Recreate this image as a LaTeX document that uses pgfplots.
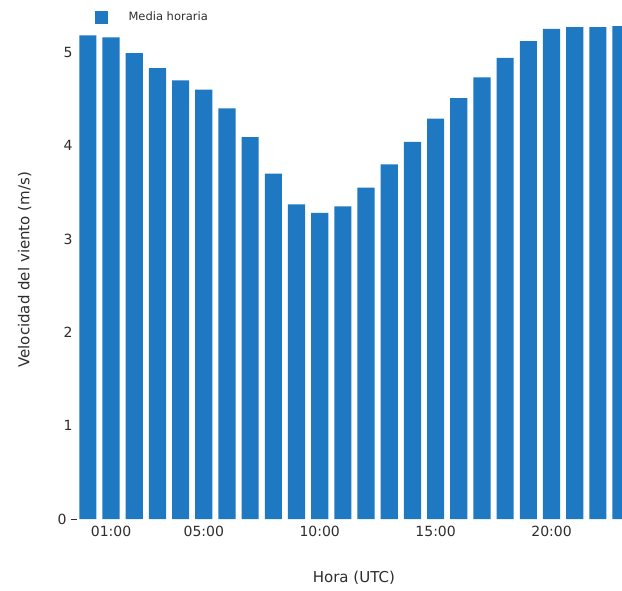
\documentclass[border=0pt]{standalone}
\usepackage{pgfplots}
\pgfplotsset{compat=1.18}
\usepackage{fontspec}
\setmainfont{DejaVu Sans}
\definecolor{barblue}{RGB}{30,120,194}
\definecolor{txt}{RGB}{45,45,45}
\begin{document}
\begin{tikzpicture}
\begin{axis}[
  name=ax,
  scale only axis,
  width=545pt, height=519pt,
  xmin=-0.47, xmax=23.04,
  ymin=0, ymax=5.56,
  axis line style={draw=none},
  ybar, bar width=0.74,
  xtick={1,5,10,15,20},
  xticklabels={01:00,05:00,10:00,15:00,20:00},
  ytick={1,2,3,4,5},
  extra y ticks={0},
  extra y tick style={major tick length=6pt, tick align=outside, tick style={txt, line width=0.8pt}},
  major tick length=0pt,
  /pgf/number format/assume math mode=true,
  tick label style={font=\fontsize{14}{16}\selectfont, text=txt},
  xticklabel style={yshift=-4pt},
  yticklabel style={xshift=-1pt},
  xlabel={Hora (UTC)},
  ylabel={Velocidad del viento (m/s)},
  xlabel style={font=\fontsize{15}{18}\selectfont, text=txt, at={(axis description cs:0.508,-0.114)}, anchor=center},
  ylabel style={font=\fontsize{15}{18}\selectfont, text=txt, at={(axis description cs:-0.096,0.48)}, anchor=center},
  legend style={at={(axis description cs:0.03,0.983)}, anchor=north west, draw=none, fill=none,
    font=\fontsize{11.5}{14}\selectfont, text=txt, row sep=0pt, inner sep=1pt},
  legend image code/.code={\fill[barblue] (0pt,-6.5pt) rectangle (13pt,6.5pt);},
  legend cell align=left,
  clip=true,
]
\addplot[fill=barblue, draw=none] coordinates {
(0,5.18) (1,5.16) (2,4.99) (3,4.83) (4,4.70) (5,4.60) (6,4.40) (7,4.09)
(8,3.70) (9,3.37) (10,3.28) (11,3.35) (12,3.55) (13,3.80) (14,4.04) (15,4.29)
(16,4.51) (17,4.73) (18,4.94) (19,5.12) (20,5.25) (21,5.27) (22,5.27) (23,5.28)
};
\addlegendentry{\hspace{19pt}Media horaria}
\end{axis}
\pgfresetboundingbox
\path[use as bounding box] (ax.south west) ++(-77pt,-71pt) rectangle (ax.north east);
\end{tikzpicture}
\end{document}
